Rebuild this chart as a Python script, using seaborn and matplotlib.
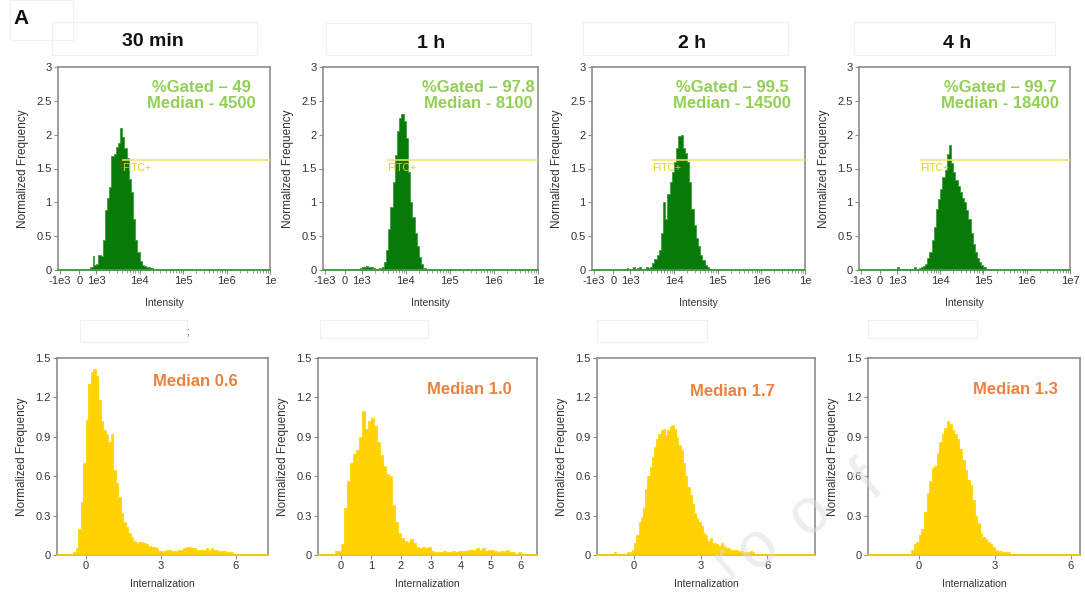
import numpy as np
import pandas as pd
import matplotlib
matplotlib.use("Agg")
import matplotlib.pyplot as plt
from matplotlib.patches import Rectangle
import seaborn as sns

sns.set_theme(style="ticks")
plt.rcParams['font.family'] = ['Liberation Sans', 'DejaVu Sans']

# ---------------- data ----------------
time_labels = ["30 min", "1 h", "2 h", "4 h"]
gated_pct = ["49", "97.8", "99.5", "99.7"]
median_intensity = ["4500", "8100", "14500", "18400"]
median_intern = ["0.6", "1.0", "1.7", "1.3"]

# top row: intensity histograms, bins of 0.05 decade starting at 10^2.8
top_log_start = 2.8
top_log_step = 0.05
top_30min = [0.04, 0.05, 0.20, 0.07, 0.09, 0.22, 0.20, 0.45, 0.88, 1.07,
             1.22, 1.68, 1.72, 1.82, 1.88, 2.10, 1.97, 1.80, 1.66, 1.35,
             1.15, 0.75, 0.44, 0.26, 0.14, 0.08, 0.06, 0.05, 0.04, 0.03,
             0.02, 0, 0, 0, 0, 0, 0, 0, 0, 0, 0, 0, 0, 0, 0, 0]
top_1h = [0.02, 0.02, 0.02, 0.03, 0.04, 0.05, 0.06, 0.05, 0.04, 0.03,
          0.02, 0.02, 0.03, 0.05, 0.12, 0.29, 0.60, 0.93, 1.30, 1.70,
          2.05, 2.25, 2.30, 2.20, 1.95, 1.45, 1.00, 0.78, 0.55, 0.36,
          0.19, 0.09, 0.03, 0.01, 0, 0, 0, 0, 0, 0, 0, 0, 0, 0, 0, 0]
top_2h = [0, 0.01, 0.03, 0.02, 0.01, 0.04, 0.02, 0.03, 0.04, 0.02,
          0.02, 0.05, 0.03, 0.05, 0.10, 0.16, 0.22, 0.30, 0.55, 1.00,
          0.76, 1.12, 1.30, 1.45, 1.60, 1.80, 1.98, 2.00, 1.80, 1.73,
          1.60, 1.30, 0.90, 0.66, 0.48, 0.36, 0.22, 0.15, 0.08, 0.04,
          0.01, 0, 0, 0, 0, 0]
top_4h = [0, 0, 0.01, 0.02, 0.04, 0.02, 0.01, 0.01, 0.02, 0.01,
          0.01, 0.02, 0.04, 0.02, 0.03, 0.04, 0.06, 0.09, 0.17, 0.27,
          0.45, 0.64, 0.90, 1.05, 1.20, 1.38, 1.48, 1.72, 1.85, 1.58,
          1.45, 1.33, 1.24, 1.16, 1.06, 1.00, 0.88, 0.75, 0.55, 0.38,
          0.26, 0.17, 0.12, 0.08, 0.04, 0.01]
top_values = [top_30min, top_1h, top_2h, top_4h]
gate_start = [3900, 3700, 3200, 3400]
gate_level = 1.62

intensity_ticks = [-1e3, 0, 1e3, 1e4, 1e5, 1e6, 1e7]
intensity_ticklabels = [["-1e3", "0", "1e3", "1e4", "1e5", "1e6", "1e"],
                        ["-1e3", "0", "1e3", "1e4", "1e5", "1e6", "1e"],
                        ["-1e3", "0", "1e3", "1e4", "1e5", "1e6", "1e"],
                        ["-1e3", "0", "1e3", "1e4", "1e5", "1e6", "1e7"]]

# bottom row: internalization histograms, bin width 0.1
bot_step = 0.1
bot_start = [-0.6, -0.6, -1.3, -2.0]
bot_30min = [0.01, 0.02, 0.05, 0.20, 0.40, 0.70, 1.03, 1.30, 1.39, 1.42,
             1.36, 1.18, 1.02, 0.95, 0.92, 0.86, 0.92, 0.65, 0.55, 0.44,
             0.32, 0.25, 0.21, 0.17, 0.14, 0.11, 0.09, 0.10, 0.10, 0.09,
             0.08, 0.07, 0.06, 0.06, 0.05, 0.03, 0.03, 0.03, 0.04, 0.04,
             0.03, 0.03, 0.03, 0.04, 0.04, 0.05, 0.06, 0.06, 0.05, 0.05,
             0.04, 0.04, 0.04, 0.04, 0.05, 0.04, 0.05, 0.04, 0.04, 0.03,
             0.03, 0.03, 0.02, 0.02, 0.02, 0.01, 0.01, 0.01, 0.01, 0.01,
             0.01, 0.01]
bot_1h = [0, 0, 0.005, 0.01, 0.03, 0.03, 0.08, 0.36, 0.56, 0.70,
          0.77, 0.80, 0.90, 1.10, 0.96, 1.02, 1.04, 0.98, 0.86, 0.76,
          0.68, 0.62, 0.60, 0.38, 0.25, 0.17, 0.13, 0.11, 0.10, 0.12,
          0.09, 0.06, 0.05, 0.06, 0.05, 0.06, 0.03, 0.02, 0.02, 0.02,
          0.03, 0.02, 0.02, 0.03, 0.02, 0.03, 0.03, 0.03, 0.04, 0.04,
          0.04, 0.05, 0.04, 0.05, 0.03, 0.04, 0.04, 0.03, 0.02, 0.03,
          0.03, 0.04, 0.02, 0.02, 0.01, 0.02, 0.01, 0.01, 0.01, 0.01,
          0.01]
bot_2h = [0.01, 0.01, 0.01, 0.01, 0.02, 0.01, 0.01, 0.01, 0.01, 0.01,
          0.02, 0.02, 0.04, 0.09, 0.15, 0.25, 0.29, 0.36, 0.50, 0.60,
          0.67, 0.75, 0.82, 0.88, 0.92, 0.95, 0.96, 0.91, 0.95, 0.98,
          0.99, 0.96, 0.90, 0.84, 0.80, 0.70, 0.60, 0.52, 0.46, 0.39,
          0.32, 0.28, 0.25, 0.22, 0.17, 0.15, 0.11, 0.13, 0.09, 0.09,
          0.08, 0.07, 0.09, 0.07, 0.05, 0.05, 0.04, 0.04, 0.04, 0.04,
          0.03, 0.03, 0.02, 0.02, 0.02, 0.03, 0.02, 0.01, 0.01, 0.01,
          0.01, 0.01, 0.01, 0.01, 0.01, 0.01, 0.01, 0.01, 0.01, 0.01,
          0.01, 0.01, 0.01, 0.01, 0.01, 0.01, 0.01, 0.01, 0.01, 0.01,
          0.01, 0.01, 0.01]
bot_4h = [0.01, 0.01, 0.01, 0.01, 0.01, 0.01, 0.01, 0.01, 0.01, 0.01,
          0.01, 0.01, 0.01, 0.01, 0.01, 0.01, 0.01, 0.04, 0.08, 0.10,
          0.15, 0.20, 0.33, 0.47, 0.56, 0.66, 0.68, 0.78, 0.86, 0.92,
          0.97, 1.02, 1.00, 0.95, 0.92, 0.88, 0.81, 0.72, 0.65, 0.57,
          0.53, 0.42, 0.30, 0.24, 0.17, 0.14, 0.12, 0.10, 0.08, 0.06,
          0.04, 0.03, 0.03, 0.02, 0.02, 0.02, 0.01, 0.01, 0.01, 0.01,
          0.01, 0.01, 0.01, 0.01, 0.01, 0.01, 0.01, 0.01, 0.01, 0.01,
          0.01, 0.01, 0.01, 0.01, 0.01, 0.01, 0.01, 0.01, 0.01, 0.01,
          0.01, 0.01, 0.01]
bot_values = [bot_30min, bot_1h, bot_2h, bot_4h]
bot_xlim = [(-1.16, 7.3), (-0.76, 6.54), (-1.67, 8.15), (-2.01, 6.36)]
bot_xticks = [[0, 3, 6], [0, 1, 2, 3, 4, 5, 6], [0, 3, 6], [0, 3, 6]]

# ---------------- layout ----------------
W, H = 1085, 596
top_boxes = [(58, 67, 270, 270), (323, 67, 538, 270),
             (592, 67, 805, 270), (859, 67, 1070, 270)]
bot_boxes = [(57, 358, 268, 555), (318, 358, 537, 555),
             (597, 358, 815, 555), (868, 358, 1080, 555)]
title_xy = [(153, 42), (431, 43), (692, 43), (957, 43)]
gated_x = [201, 478, 732, 1000]
bmed_xy = [(195, 382), (469, 389), (732, 391), (1015, 390)]
# faint frames left over from the source figure (pixel boxes)
faint_frames = [(10, 0, 73, 40), (52, 22, 257, 55), (326, 23, 531, 55),
                (583, 22, 788, 55), (854, 22, 1055, 55),
                (80, 320, 187, 342), (320, 320, 428, 338),
                (597, 320, 707, 342), (868, 320, 977, 338)]
# watermark letters (centre px, char, size)
watermark = [(726, 562, "r", 38), (758, 548, "o", 46),
             (810, 514, "o", 46), (868, 482, "f", 46)]

GREEN = "#087a08"
GREEN_EDGE = "#3c9c3c"
GREEN_TXT = "#92cf55"
YELLOW = "#ffd200"
ORANGE = "#eb8040"
GATE = "#f3e264"
SPINE = "#8c8c8c"
TICKTXT = "#333333"


def fwd(x):
    x = np.asarray(x, dtype=float)
    neg = 0.1 + x * 0.092e-3
    lin = 0.1 + x * 0.08e-3
    lg = 0.18 + (np.log10(np.maximum(x, 1e3)) - 3) * 0.205
    return np.where(x < 0, neg, np.where(x < 1e3, lin, lg))


def inv(u):
    u = np.asarray(u, dtype=float)
    neg = (u - 0.1) / 0.092e-3
    lin = (u - 0.1) / 0.08e-3
    lg = 10 ** np.clip(3 + (u - 0.18) / 0.205, -300, 300)
    return np.where(u < 0.1, neg, np.where(u < 0.18, lin, lg))


def rect(box):
    x0, y0, x1, y1 = box
    return [x0 / W, 1 - y1 / H, (x1 - x0) / W, (y1 - y0) / H]


def style_axes(ax, wpx, hpx):
    for s in ax.spines.values():
        s.set_visible(True)
        s.set_color(SPINE)
        s.set_linewidth(1.2)
    ax.tick_params(axis="both", which="major", direction="out", length=3,
                   width=0.8, color=SPINE, labelsize=8, labelcolor=TICKTXT,
                   pad=1.5, bottom=True, left=True, top=False, right=False)
    ax.tick_params(axis="x", which="minor", direction="out", length=1.8,
                   width=0.6, color=SPINE, bottom=True, top=False)
    ax.set_facecolor("white")
    ax.yaxis.set_label_coords(-29 / wpx, 0.5)


fig = plt.figure(figsize=(W / 100, H / 100), dpi=100)
fig.patch.set_facecolor("white")

for (x0, y0, x1, y1) in faint_frames:
    fig.patches.append(Rectangle((x0 / W, 1 - y1 / H), (x1 - x0) / W,
                                 (y1 - y0) / H, transform=fig.transFigure,
                                 fill=False, edgecolor="#f1f1f1", lw=0.8,
                                 zorder=0))

minor_int = [m * 10 ** e for e in range(3, 7) for m in range(2, 10)]

for i in range(4):
    box = top_boxes[i]
    ax = fig.add_axes(rect(box))
    n = len(top_values[i])
    edges = 10 ** (top_log_start + top_log_step * np.arange(n + 1))
    df = pd.DataFrame({"intensity": np.sqrt(edges[:-1] * edges[1:]),
                       "freq": np.asarray(top_values[i], dtype=float)})
    sns.histplot(data=df, x="intensity", weights="freq", bins=list(edges),
                 ax=ax, element="step", fill=True, color=GREEN, alpha=1,
                 edgecolor=GREEN_EDGE, linewidth=0.6)
    ax.set_xscale("function", functions=(fwd, inv))
    ax.set_xlim(float(inv(0.0)), 1e7)
    ax.set_ylim(0, 3)
    ax.axhline(0, color=GREEN_EDGE, lw=1.2, zorder=3, clip_on=False)
    ax.hlines(gate_level, gate_start[i], 1e7, color=GATE, lw=1.1, zorder=4)
    ax.text(gate_start[i], gate_level - 0.04, "FITC+", color="#e6cf10",
            fontsize=7.5, ha="left", va="top", zorder=5)
    ax.set_xticks(intensity_ticks)
    ax.set_xticklabels(intensity_ticklabels[i])
    ax.set_xticks(minor_int, minor=True)
    ax.set_yticks([0, 0.5, 1, 1.5, 2, 2.5, 3])
    ax.set_yticklabels(["0", "0.5", "1", "1.5", "2", "2.5", "3"])
    ax.set_xlabel("Intensity", fontsize=7.5, color=TICKTXT)
    ax.set_ylabel("Normalized Frequency", fontsize=8.5, color=TICKTXT)
    style_axes(ax, box[2] - box[0], box[3] - box[1])
    ax.xaxis.set_label_coords(0.5, -28 / (box[3] - box[1]))

    fig.text(title_xy[i][0] / W, 1 - title_xy[i][1] / H, time_labels[i],
             fontsize=14, fontweight="bold", ha="center", va="center",
             color="#111111")
    fig.text(gated_x[i] / W, 1 - 88 / H, "%Gated \u2013 " + gated_pct[i],
             fontsize=12, fontweight="bold", ha="center", va="center",
             color=GREEN_TXT)
    fig.text(gated_x[i] / W, 1 - 104 / H, "Median - " + median_intensity[i],
             fontsize=12, fontweight="bold", ha="center", va="center",
             color=GREEN_TXT)

for i in range(4):
    box = bot_boxes[i]
    ax = fig.add_axes(rect(box))
    n = len(bot_values[i])
    edges = bot_start[i] + bot_step * np.arange(n + 1)
    df = pd.DataFrame({"intern": (edges[:-1] + edges[1:]) / 2,
                       "freq": np.asarray(bot_values[i], dtype=float)})
    sns.histplot(data=df, x="intern", weights="freq", bins=list(edges),
                 ax=ax, element="step", fill=True, color=YELLOW, alpha=1,
                 edgecolor=YELLOW, linewidth=0.5)
    ax.set_xlim(*bot_xlim[i])
    ax.set_ylim(0, 1.5)
    ax.axhline(0, color=YELLOW, lw=1.2, zorder=3, clip_on=False)
    ax.set_xticks(bot_xticks[i])
    ax.set_xticklabels([str(t) for t in bot_xticks[i]])
    ax.set_yticks([0, 0.3, 0.6, 0.9, 1.2, 1.5])
    ax.set_yticklabels(["0", "0.3", "0.6", "0.9", "1.2", "1.5"])
    ax.set_xlabel("Internalization", fontsize=7.5, color=TICKTXT)
    ax.set_ylabel("Normalized Frequency", fontsize=8.5, color=TICKTXT)
    style_axes(ax, box[2] - box[0], box[3] - box[1])
    ax.xaxis.set_label_coords(0.5, -24 / (box[3] - box[1]))
    fig.text(bmed_xy[i][0] / W, 1 - bmed_xy[i][1] / H, "Median " + median_intern[i],
             fontsize=12, fontweight="bold", ha="center", va="center",
             color=ORANGE)

fig.text(21 / W, 1 - 19 / H, "A", fontsize=15, fontweight="bold",
         ha="center", va="center", color="#111111")
fig.text(188 / W, 1 - 332 / H, ";", fontsize=8, ha="center", va="center",
         color="#555555")

for (cx, cy, ch, sz) in watermark:
    fig.text(cx / W, 1 - cy / H, ch, fontsize=sz, rotation=40,
             ha="center", va="center", color="#dcdcdc", alpha=0.5,
             zorder=10)

fig.savefig("out.png", dpi=100, facecolor="white")
